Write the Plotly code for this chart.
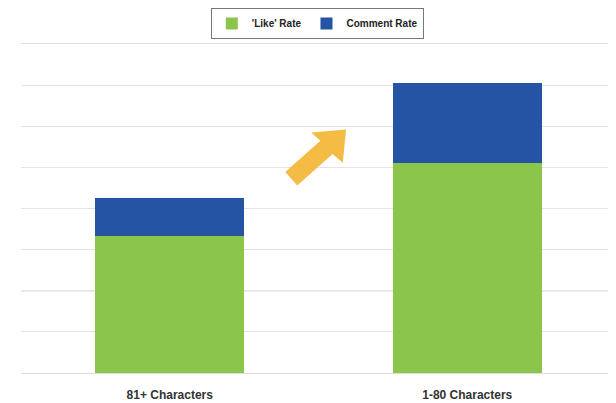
import plotly.graph_objects as go

categories = ["81+ Characters", "1-80 Characters"]
like_rate = [3.33, 5.11]
comment_rate = [0.93, 1.93]

GREEN = "#8BC54B"
BLUE = "#2454A3"
ARROW = "#F4BC45"

# page offset of the figure (body margin)
OFF = 8
W, H = 616 - OFF, 403 - OFF
L, R, T, B = 21 - OFF, 0, 44 - OFF, 30
pw, ph = W - L - R, H - T - B

def px(x, y):
    # page pixel -> paper coordinates
    return (x - OFF - L) / pw, (H - B - (y - OFF)) / ph

fig = go.Figure()
fig.add_trace(go.Bar(x=categories, y=like_rate, name="'Like' Rate",
                     marker=dict(color=GREEN, line=dict(width=0))))
fig.add_trace(go.Bar(x=categories, y=comment_rate, name="Comment Rate",
                     marker=dict(color=BLUE, line=dict(width=0))))

# decorative arrow (pixel polygon converted to paper coords)
pts = [(286.7, 172.0), (321.9, 140.7), (313.6, 133.3), (344.9, 130.6),
       (342.0, 160.7), (332.5, 152.7), (297.3, 184.0)]
path = "M " + " L ".join(f"{px(x, y)[0]:.4f},{px(x, y)[1]:.4f}" for x, y in pts) + " Z"

shapes = [
    dict(type="path", xref="paper", yref="paper", path=path,
         fillcolor=ARROW, line=dict(color=ARROW, width=2), layer="above"),
    dict(type="line", xref="paper", yref="y", x0=0, x1=1, y0=2, y1=2,
         line=dict(color="#BDBDBD", width=1), layer="below"),
]

fig.update_layout(
    width=W, height=H,
    margin=dict(l=L, r=R, t=T, b=B, pad=0, autoexpand=False),
    paper_bgcolor="white", plot_bgcolor="white",
    barmode="stack", bargap=0.5,
    showlegend=True,
    legend=dict(orientation="h", x=0.498, xanchor="center", y=1.0, yref="container",
                yanchor="top", bordercolor="#777777", borderwidth=1,
                font=dict(family="Liberation Sans", size=10, color="#222222", weight="bold"),
                itemwidth=30, traceorder="normal", bgcolor="white"),
    font=dict(family="Liberation Sans"),
    xaxis=dict(showgrid=False, showline=True, mirror=True, linecolor="#DDDDDD", linewidth=1,
               ticks="outside", ticklen=11, tickcolor="rgba(0,0,0,0)",
               tickfont=dict(family="Liberation Sans", size=12, color="#333333", weight="bold")),
    yaxis=dict(range=[0, 8], dtick=1, showticklabels=False, showgrid=True,
               gridcolor="#E3E3E3", gridwidth=1, zeroline=False, ticks=""),
    shapes=shapes,
)

fig.write_html("out.html")
